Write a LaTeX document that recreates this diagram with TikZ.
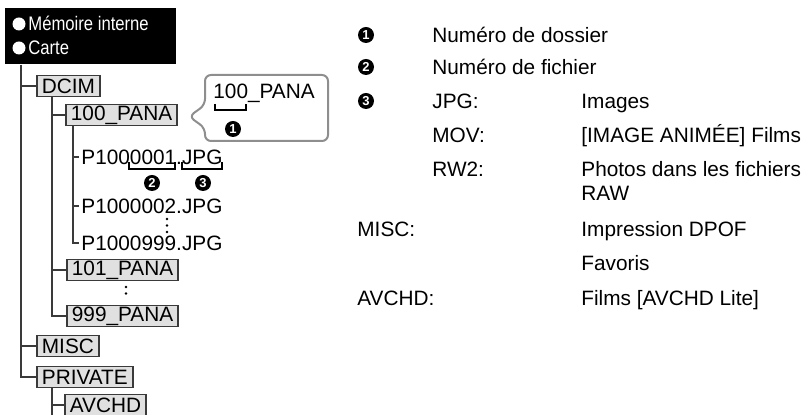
\documentclass[tikz,border=0pt]{standalone}
\usepackage{fontspec}
\setmainfont{Liberation Sans}
\newfontfamily\narrowsans[FakeStretch=0.85]{Liberation Sans}
\usetikzlibrary{positioning, calc}
\definecolor{dirfill}{HTML}{E0E0E0}
\definecolor{dirline}{HTML}{3A3A3A}
\definecolor{callgray}{HTML}{8E8E8E}

\begin{document}
\begin{tikzpicture}[x=0.5pt, y=-0.5pt, font=\fontsize{10.4}{12}\selectfont,
  dir/.style={draw=dirline, fill=dirfill, line width=0.9pt, anchor=west, inner xsep=2.5pt, inner ysep=0pt, minimum height=10.5pt},
  tree/.style={draw=dirline, line width=0.9pt},
  file/.style={anchor=west, inner xsep=1pt, inner ysep=0pt},
  num/.style={circle, fill=black, text=white, inner sep=0pt, minimum size=8pt, font=\bfseries\fontsize{6.5}{7}\selectfont},
  legend/.style={anchor=base west, inner sep=0pt},
  brace/.style={line width=1pt},
  vdots/.style={line width=1.4pt, line cap=round, dash pattern=on 0pt off 3.25pt}]
\useasboundingbox (0,0) rectangle (810,415);
% media box
\node[fill=black, anchor=north west, minimum width=85.5pt, minimum height=28pt, inner sep=0pt] (media) at (5,8) {};
\node[anchor=base west, inner sep=0pt, text=white, font=\narrowsans\fontsize{9.8}{11}\selectfont] (mem) at (28,31) {Mémoire interne};
\node[anchor=base west, inner sep=0pt, text=white, font=\narrowsans\fontsize{9.8}{11}\selectfont] (card) at (28,55) {Carte};
\fill[white] (19,24) circle (6.5);
\fill[white] (19,48) circle (6.5);
% folders
\node[dir] (dcim) at (36,86) {DCIM};
\node[dir] (p100) at (65,115) {100\_PANA};
\node[dir] (p101) at (66,270) {101\_PANA};
\node[dir] (p999) at (66,316) {999\_PANA};
\node[dir] (misc) at (36,346) {MISC};
\node[dir] (private) at (36,377) {PRIVATE};
\node[dir] (avchd) at (64,405) {AVCHD};
% files
\node[file] (f001) at (79,157) {P1000001.JPG};
\node[file] (f002) at (79,206) {P1000002.JPG};
\node[file] (f999) at (79,243) {P1000999.JPG};
% tree lines
\coordinate (t1) at ($(media.south west)+(16,0)$);
\coordinate (t2) at ($(dcim.south west)+(16,0)$);
\coordinate (t3) at ($(p100.south west)+(8,0)$);
\coordinate (t4) at ($(private.south west)+(16,0)$);
\draw[tree] (t1) |- (private.west);
\draw[tree] (t1 |- dcim.west) -- (dcim.west);
\draw[tree] (t1 |- misc.west) -- (misc.west);
\draw[tree] (t2) |- (p999.west);
\draw[tree] (t2 |- p100.west) -- (p100.west);
\draw[tree] (t2 |- p101.west) -- (p101.west);
\draw[tree] (t3) |- (f999.west);
\draw[tree] (t3 |- f001.west) -- (f001.west);
\draw[tree] (t3 |- f002.west) -- (f002.west);
\draw[tree] (t4) -- (t4 |- 0,415);
\draw[tree] (t4 |- avchd.west) -- (avchd.west);
\draw[vdots] (167,219) -- (167,232);
\draw[vdots] (126,287) -- (126,300);
% file name parts
\draw[brace] (129,162) -- (129,169) -- (175,169) -- (175,162);
\draw[brace] (182,162) -- (182,169) -- (222,169) -- (222,162);
\node[num] (fn2) at (152,183) {2};
\node[num] (fn3) at (203,183) {3};
% callout
\node[anchor=west, inner sep=0pt] (calltxt) at (213,93) {100\_PANA};
\draw[brace] (215,104) -- (215,110) -- (246,110) -- (246,104);
\node[num] (cn1) at (233,129) {1};
\draw[callgray, line width=1pt, rounded corners=3pt] (205,105) -- (205,75) -- (328,75) -- (328,141) -- (205,141) -- (205,128) -- (189,116.5) -- cycle;
% legend
\node[num] (n1) at (366,35) {1};
\node[legend] (l1) at (432,42.5) {Numéro de dossier};
\node[num] (n2) at (366,67) {2};
\node[legend] (l2) at (432,74.5) {Numéro de fichier};
\node[num] (n3) at (366,101) {3};
\node[legend] (jpg) at (432,108.5) {JPG:};
\node[legend] (jpgv) at (581,108.5) {Images};
\node[legend] (mov) at (432,142.5) {MOV:};
\node[legend] (movv) at (581,142.5) {[IMAGE ANIMÉE] Films};
\node[legend] (rw2) at (432,176.5) {RW2:};
\node[legend] (rw2v) at (581,176.5) {Photos dans les fichiers};
\node[legend] (raw) at (581,200.5) {RAW};
\node[legend] (miscl) at (357,236.5) {MISC:};
\node[legend] (miscv) at (581,236.5) {Impression DPOF};
\node[legend] (fav) at (581,270.5) {Favoris};
\node[legend] (avchdl) at (357,305.5) {AVCHD:};
\node[legend] (avchdv) at (581,305.5) {Films [AVCHD Lite]};
\end{tikzpicture}
\end{document}
